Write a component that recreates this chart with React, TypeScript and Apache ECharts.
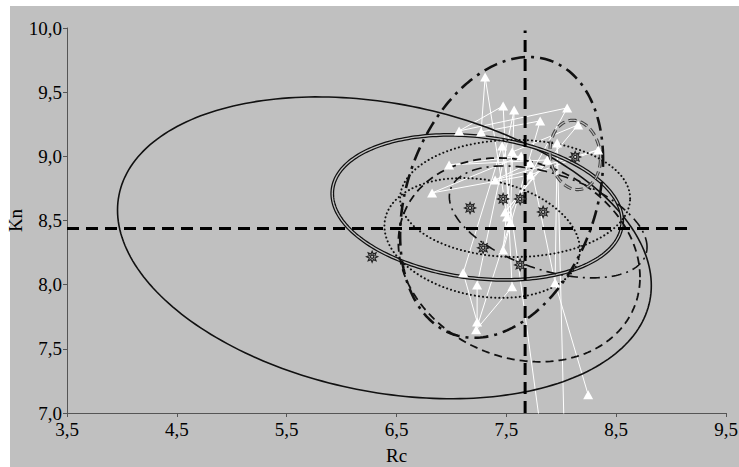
import React, { useEffect, useRef } from "react";
import * as echarts from "echarts";

// ---------- data ----------
// individual observations (Rc, Kn); the last two lie below the plotted range
const trianglePoints: [number, number][] = [
  [7.307, 9.618], [7.471, 9.393], [7.571, 9.361], [8.054, 9.377], [7.808, 9.276],
  [8.154, 9.245], [7.07, 9.198], [7.27, 9.19], [7.462, 9.081], [7.553, 9.034],
  [7.635, 9.003], [7.872, 8.972], [7.963, 9.104], [8.336, 9.05], [6.979, 8.933],
  [7.717, 8.949], [6.824, 8.715], [7.398, 8.816], [7.717, 8.855], [7.489, 8.567],
  [7.507, 8.528], [7.535, 8.481], [7.471, 8.271], [7.107, 8.092], [7.234, 7.998],
  [7.553, 7.983], [7.944, 8.014], [7.234, 7.71], [7.225, 7.648], [8.245, 7.142],
  [7.862, 6.558], [8.035, 6.558],
];
// order in which the observations are joined
const pathMain: number[] = [
  30, 8, 23, 27, 24, 2, 21, 28, 25, 1, 6, 3, 20, 0, 7, 4, 22, 9, 5, 19, 11, 14,
  10, 16, 18, 13, 17, 15, 26, 12, 31,
];
const pathSide: number[] = [26, 29];

// group means (star markers)
const starPoints: [number, number][] = [
  [6.278, 8.217], [7.17, 8.598], [7.471, 8.668], [7.626, 8.668],
  [7.835, 8.567], [7.289, 8.287], [7.626, 8.154], [8.127, 8.995],
];

// overall means
const meanRc = 7.671;
const meanKn = 8.437;
const vLine: [number, number][] = [[meanRc, 7.0], [meanRc, 9.98]];
const hLine: [number, number][] = [[3.5, meanKn], [9.17, meanKn]];

// ellipses: [centre Rc, centre Kn, half-extent Rc, half-extent Kn, correlation]
const ellipseSolid = [6.39, 8.287, 2.43, 1.176, -0.25];
const ellipseDouble = [7.235, 8.602, 1.32, 0.565, -0.19];
const ellipseDashDotBold = [7.457, 8.68, 0.924, 1.094, 0.27];
const ellipseDashed = [7.617, 8.193, 1.1, 0.794, -0.17];
const ellipseDashDotThin = [7.881, 8.489, 0.9, 0.436, -0.45];
const ellipseSmallGrey = [8.127, 9.011, 0.23, 0.27, -0.1];
const ellipseDotted1 = [7.58, 8.672, 1.047, 0.456, 0.0];
const ellipseDotted2 = [7.28, 8.364, 0.89, 0.467, -0.2];

const BG = "#c0c0c0";
const FONT = "'Liberation Serif', 'Times New Roman', serif";
const starPath =
  "path://M10 0 L5.08 2.1 L7.07 7.07 L2.1 5.08 L0 10 L-2.1 5.08 L-7.07 7.07 L-5.08 2.1 L-10 0 L-5.08 -2.1 L-7.07 -7.07 L-2.1 -5.08 L0 -10 L2.1 -5.08 L7.07 -7.07 L5.08 -2.1 Z M3 0 A3 3 0 1 0 -3 0 A3 3 0 1 0 3 0 Z";

type Layer = { color: string; width: number; dash?: number[]; cap?: string };

function ellipseSeries(e: number[], layers: Layer[]): any {
  return {
    type: "custom",
    data: [e],
    encode: { x: 0, y: 1 },
    clip: true,
    silent: true,
    z: 3,
    renderItem: (_params: any, api: any) => {
      const cx = api.value(0);
      const cy = api.value(1);
      const sx = api.value(2);
      const sy = api.value(3);
      const r = api.value(4);
      const q = Math.sqrt(1 - r * r);
      const pts: number[][] = [];
      for (let i = 0; i <= 240; i++) {
        const t = (i / 240) * 2 * Math.PI;
        pts.push(
          api.coord([
            cx + sx * Math.cos(t),
            cy + sy * (r * Math.cos(t) + q * Math.sin(t)),
          ])
        );
      }
      return {
        type: "group",
        children: layers.map((l) => ({
          type: "polyline",
          shape: { points: pts },
          style: {
            fill: "none",
            stroke: l.color,
            lineWidth: l.width,
            lineDash: l.dash,
            lineCap: l.cap || "butt",
          },
        })),
      };
    },
  };
}

export default function App() {
  const ref = useRef<HTMLDivElement>(null);

  useEffect(() => {
    if (!ref.current) return;
    const chart = echarts.init(ref.current, undefined, { renderer: "svg" });
    const fmt = (v: number) => v.toFixed(1).replace(".", ",");
    const axisCommon = {
      axisLine: { show: true, onZero: false, lineStyle: { color: "#555", width: 1 } },
      axisTick: { show: true, inside: false, length: 4, lineStyle: { color: "#555" } },
      splitLine: { show: false },
      axisLabel: { color: "#000", fontFamily: FONT, fontSize: 19, formatter: fmt },
      nameTextStyle: { color: "#000", fontFamily: FONT, fontSize: 19 },
      nameMoveOverlap: false,
    };
    const option: any = {
      animation: false,
      backgroundColor: "#fff",
      graphic: [
        {
          type: "rect",
          left: 10,
          top: 6,
          shape: { width: 729, height: 461 },
          style: { fill: BG },
          z: -10,
          silent: true,
        },
      ],
      grid: {
        left: 67,
        right: 13,
        top: 28,
        bottom: 54,
        containLabel: false,
        outerBoundsMode: "none",
      },
      xAxis: {
        type: "value",
        min: 3.5,
        max: 9.5,
        interval: 1,
        name: "Rc",
        nameLocation: "middle",
        nameGap: 33,
        ...axisCommon,
        axisLabel: { ...axisCommon.axisLabel, margin: 7 },
      },
      yAxis: {
        type: "value",
        min: 7,
        max: 10,
        interval: 0.5,
        name: "Kn",
        nameLocation: "middle",
        nameGap: 42,
        ...axisCommon,
        axisLabel: { ...axisCommon.axisLabel, margin: 5 },
      },
      series: [
        {
          type: "line",
          data: pathMain.map((i) => trianglePoints[i]),
          showSymbol: false,
          symbol: "none",
          clip: true,
          lineStyle: { color: "#fff", width: 1 },
          z: 2,
          silent: true,
        },
        {
          type: "line",
          data: pathSide.map((i) => trianglePoints[i]),
          showSymbol: false,
          symbol: "none",
          clip: true,
          lineStyle: { color: "#fff", width: 1 },
          z: 2,
          silent: true,
        },
        ellipseSeries(ellipseSolid, [{ color: "#111", width: 1.6 }]),
        ellipseSeries(ellipseDouble, [
          { color: "#111", width: 3.8 },
          { color: BG, width: 1.3 },
        ]),
        ellipseSeries(ellipseDashDotBold, [
          { color: "#111", width: 2.6, dash: [14, 6, 3, 6] },
        ]),
        ellipseSeries(ellipseDashed, [{ color: "#111", width: 1.8, dash: [8, 5] }]),
        ellipseSeries(ellipseDashDotThin, [
          { color: "#111", width: 1.6, dash: [10, 5, 2, 5] },
        ]),
        ellipseSeries(ellipseSmallGrey, [
          { color: "#444", width: 3.2, dash: [8, 4] },
          { color: BG, width: 1.1, dash: [8, 4] },
        ]),
        ellipseSeries(ellipseDotted1, [
          { color: "#111", width: 2, dash: [0.1, 4], cap: "round" },
        ]),
        ellipseSeries(ellipseDotted2, [
          { color: "#111", width: 2, dash: [0.1, 4], cap: "round" },
        ]),
        {
          type: "scatter",
          data: trianglePoints,
          symbol: "triangle",
          symbolSize: [10, 9],
          clip: true,
          itemStyle: { color: "#fff", borderWidth: 0, opacity: 1 },
          z: 4,
          silent: true,
        },
        {
          type: "line",
          data: vLine,
          symbol: "none",
          lineStyle: { color: "#000", width: 3, type: [12, 7] },
          z: 5,
          silent: true,
        },
        {
          type: "line",
          data: hLine,
          symbol: "none",
          lineStyle: { color: "#000", width: 3, type: [12, 7] },
          z: 5,
          silent: true,
        },
        {
          type: "scatter",
          data: starPoints,
          symbol: starPath,
          symbolSize: 11,
          itemStyle: { color: BG, borderColor: "#222", borderWidth: 1.2, opacity: 1 },
          z: 6,
          silent: true,
        },
      ],
    };
    chart.setOption(option);
    return () => chart.dispose();
  }, []);

  return (
    <div
      style={{
        position: "fixed",
        left: 0,
        top: 0,
        width: 739,
        height: 467,
        background: "#fff",
      }}
    >
      <div ref={ref} style={{ width: 739, height: 467 }} />
    </div>
  );
}
